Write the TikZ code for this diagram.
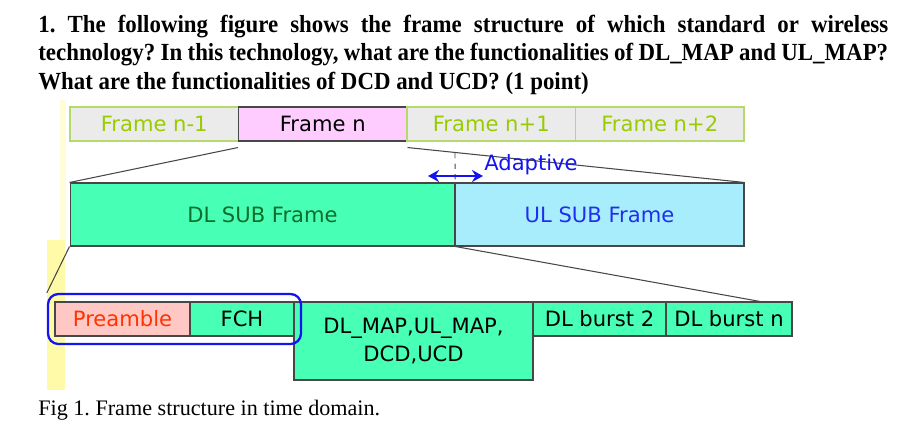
\documentclass[tikz,border=0pt]{standalone}
\usepackage{fontspec}
\setmainfont{Liberation Serif}
\newfontfamily\diagfont{DejaVu Sans}
\usepackage{tikz}
\usetikzlibrary{arrows.meta, positioning, fit, calc}
\definecolor{frame-gray}{HTML}{EBEBEB}
\definecolor{frame-lime}{HTML}{B5DA6C}
\definecolor{frame-text}{HTML}{99CC00}
\definecolor{frame-pink}{HTML}{FFCCFF}
\definecolor{sub-green}{HTML}{47FFB5}
\definecolor{sub-cyan}{HTML}{A8EDFC}
\definecolor{sub-dark}{HTML}{474747}
\definecolor{pre-pink}{HTML}{FFC8C4}
\definecolor{pre-red}{HTML}{FF3300}
\definecolor{dl-text}{HTML}{0E6E2A}
\definecolor{ul-text}{HTML}{1F2EF0}
\definecolor{mark-blue}{HTML}{1414F0}
\definecolor{mark-yellow}{HTML}{FFFAA8}
\frenchspacing

\begin{document}
\begin{tikzpicture}[x=0.02cm, y=-0.02cm,
    box/.style={rectangle, draw=sub-dark, line width=0.6pt, minimum height=0.68cm, inner sep=0pt, align=center, font=\diagfont\fontsize{12}{15.5}\selectfont},
    framebox/.style={box, fill=frame-gray, draw=frame-lime, text=frame-text, minimum width=3.37cm},
    curbox/.style={box, fill=frame-pink, text=black, minimum width=3.37cm},
    greenbox/.style={box, fill=sub-green, text=black},
    cyanbox/.style={box, fill=sub-cyan},
    pinkbox/.style={box, fill=pre-pink, text=pre-red},
    link/.style={draw=sub-dark, line width=0.6pt},
    title/.style={anchor=west, inner sep=0pt, font=\bfseries\fontsize{14}{16}\selectfont}
]
\useasboundingbox (0,0) rectangle (900,434);

% highlight strip on the left
\fill[mark-yellow!45] (60,100) rectangle (66,250);
\fill[mark-yellow] (47,240) rectangle (65,390);

% question
\node[title] (q1) at (38,27) {\scalebox{0.93}[1]{\makebox[18.28cm][s]{1. The following figure shows the frame structure of which standard or wireless}}};
\node[title] (q2) at (38,55) {\scalebox{0.93}[1]{\makebox[18.28cm][s]{technology? In this technology, what are the functionalities of DL\_MAP and UL\_MAP?}}};
\node[title] (q3) at (38,83) {\scalebox{0.93}[1]{What are the functionalities of DCD and UCD? (1 point)}};

% Frame row
\node[framebox] (fprev) at (154.25,124) {Frame n-1};
\node[curbox] (fcur) at (322.75,124) {Frame n};
\node[framebox] (fnext) at (491.25,124) {Frame n+1};
\node[framebox] (fnext2) at (659.75,124) {Frame n+2};

% Sub frames
\node[greenbox, text=dl-text, minimum width=7.7cm, minimum height=1.26cm] (dl) at (262.5,214.5) {DL SUB Frame};
\node[cyanbox, text=ul-text, minimum width=5.78cm, minimum height=1.26cm] (ul) at (599.5,214.5) {UL SUB Frame};

\draw[link] ($(fcur.south west)+(0,6)$) -- (dl.north west);
\draw[link] ($(fcur.south east)+(0,6)$) -- (ul.north east);

% Adaptive boundary
\coordinate (bndtop) at (455,153);
\draw[link, dashed, line width=0.5pt] (bndtop) -- (dl.south east);
\coordinate (adl) at (428,176);
\coordinate (adr) at (483,176);
\draw[{Stealth[length=2.2mm,width=2.4mm]}-{Stealth[length=2.2mm,width=2.4mm]}, mark-blue, line width=1.4pt] (adl) -- (adr);
\node[font=\diagfont\fontsize{12}{14}\selectfont, text=mark-blue, inner sep=0pt] (adapt) at (531,165) {Adaptive};

% DL sub frame contents
\node[pinkbox, minimum width=2.7cm] (pre) at (122.5,319) {Preamble};
\node[greenbox, minimum width=2.08cm] (fch) at (242,319) {FCH};
\node[greenbox, minimum width=4.78cm, minimum height=1.56cm] (map) at (413.5,341) {DL\_MAP,UL\_MAP,\\DCD,UCD};
\node[greenbox, minimum width=2.66cm] (b2) at (599.5,319) {DL burst 2};
\node[greenbox, minimum width=2.52cm] (bn) at (729,319) {DL burst n};

\node[draw=mark-blue, line width=1.3pt, rounded corners=6pt, fit=(pre)(fch), inner xsep=0.13cm, inner ysep=0.15cm] (hdr) {};

\coordinate (dlend) at (763,302);
\draw[link] (dl.south west) -- (hdr.north west);
\draw[link] (dl.south east) -- (dlend);

% caption
\node[anchor=west, inner sep=0pt, font=\fontsize{12.6}{14}\selectfont] (cap) at (38,410) {Fig 1. Frame structure in time domain.};

\end{tikzpicture}
\end{document}
